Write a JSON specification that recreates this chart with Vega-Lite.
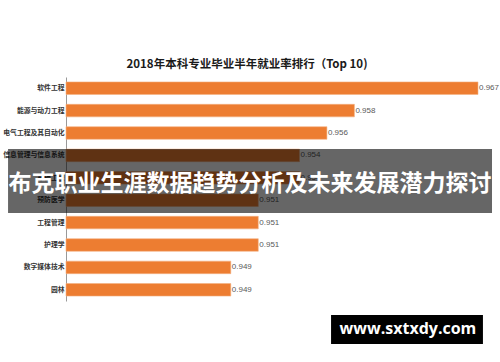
{
  "$schema": "https://vega.github.io/schema/vega-lite/v6.json",
  "width": 412,
  "height": 224,
  "autosize": {"type": "none"},
  "padding": {"left": 66, "top": 77, "right": 22, "bottom": 61},
  "background": "white",
  "title": {
    "text": "2018年本科专业毕业半年就业率排行（Top 10)",
    "font": "Noto Sans CJK SC",
    "fontSize": 11.5,
    "fontWeight": "bold",
    "color": "#1a1a1a",
    "anchor": "middle",
    "dx": -25,
    "offset": 7
  },
  "config": {"view": {"stroke": null}},
  "datasets": {
    "majors": [
      {"major": "软件工程", "rate": 0.967},
      {"major": "能源与动力工程", "rate": 0.958},
      {"major": "电气工程及其自动化", "rate": 0.956},
      {"major": "信息管理与信息系统", "rate": 0.954},
      {"major": "车辆工程", "rate": 0.954},
      {"major": "预防医学", "rate": 0.951},
      {"major": "工程管理", "rate": 0.951},
      {"major": "护理学", "rate": 0.951},
      {"major": "数字媒体技术", "rate": 0.949},
      {"major": "园林", "rate": 0.949}
    ],
    "banner": [
      {"label": "布克职业生涯数据趋势分析及未来发展潜力探讨", "x1": 0.93278, "x2": 0.96802, "xm": 0.9504, "y1": 3.214, "y2": 6.07, "ym": 4.78}
    ],
    "mark": [
      {"label": "www.sxtxdy.com", "x1": 0.9563, "x2": 0.96736, "xm": 0.9619, "y1": 10.625, "y2": 11.92, "ym": 11.25}
    ]
  },
  "resolve": {"scale": {"y": "independent"}},
  "layer": [
    {
      "data": {"name": "majors"},
      "encoding": {
        "y": {
          "field": "major",
          "type": "nominal",
          "sort": null,
          "scale": {"paddingInner": 0.44, "paddingOuter": 0.22},
          "axis": {
            "title": null,
            "ticks": false,
            "domainColor": "#999999",
            "domainWidth": 1,
            "labelFont": "Noto Sans CJK SC",
            "labelFontSize": 6.8,
            "labelFontWeight": "bold",
            "labelColor": "#333333",
            "labelPadding": 2
          }
        },
        "x": {
          "field": "rate",
          "type": "quantitative",
          "scale": {"domain": [0.937, 0.967], "zero": false, "nice": false},
          "axis": null
        }
      },
      "layer": [
        {
          "mark": {"type": "bar", "color": "#ED7D31", "stroke": "#F4B183", "strokeWidth": 0.6},
          "encoding": {"x2": {"datum": 0.937}}
        },
        {
          "mark": {"type": "text", "align": "left", "baseline": "middle", "dx": 1, "fontSize": 8, "color": "#595959", "font": "Liberation Sans"},
          "encoding": {"text": {"field": "rate", "type": "quantitative", "format": ".3f"}}
        }
      ]
    },
    {
      "encoding": {
        "x": {"field": "x1", "type": "quantitative"},
        "y": {
          "field": "y1",
          "type": "quantitative",
          "scale": {"domain": [0, 10], "reverse": true, "nice": false, "zero": false},
          "axis": null
        }
      },
      "layer": [
        {
          "data": {"name": "banner"},
          "mark": {"type": "rect", "color": "black", "opacity": 0.6},
          "encoding": {"x2": {"field": "x2"}, "y2": {"field": "y2"}}
        },
        {
          "data": {"name": "banner"},
          "mark": {"type": "text", "color": "white", "font": "Noto Sans CJK SC", "fontWeight": "bold", "fontSize": 23, "align": "center", "baseline": "middle"},
          "encoding": {
            "x": {"field": "xm", "type": "quantitative"},
            "y": {"field": "ym", "type": "quantitative"},
            "text": {"field": "label"}
          }
        },
        {
          "data": {"name": "mark"},
          "mark": {"type": "rect", "color": "black", "opacity": 1},
          "encoding": {"x2": {"field": "x2"}, "y2": {"field": "y2"}}
        },
        {
          "data": {"name": "mark"},
          "mark": {"type": "text", "color": "white", "font": "Open Sans", "fontWeight": "bold", "fontSize": 16, "align": "center", "baseline": "middle"},
          "encoding": {
            "x": {"field": "xm", "type": "quantitative"},
            "y": {"field": "ym", "type": "quantitative"},
            "text": {"field": "label"}
          }
        }
      ]
    }
  ]
}
